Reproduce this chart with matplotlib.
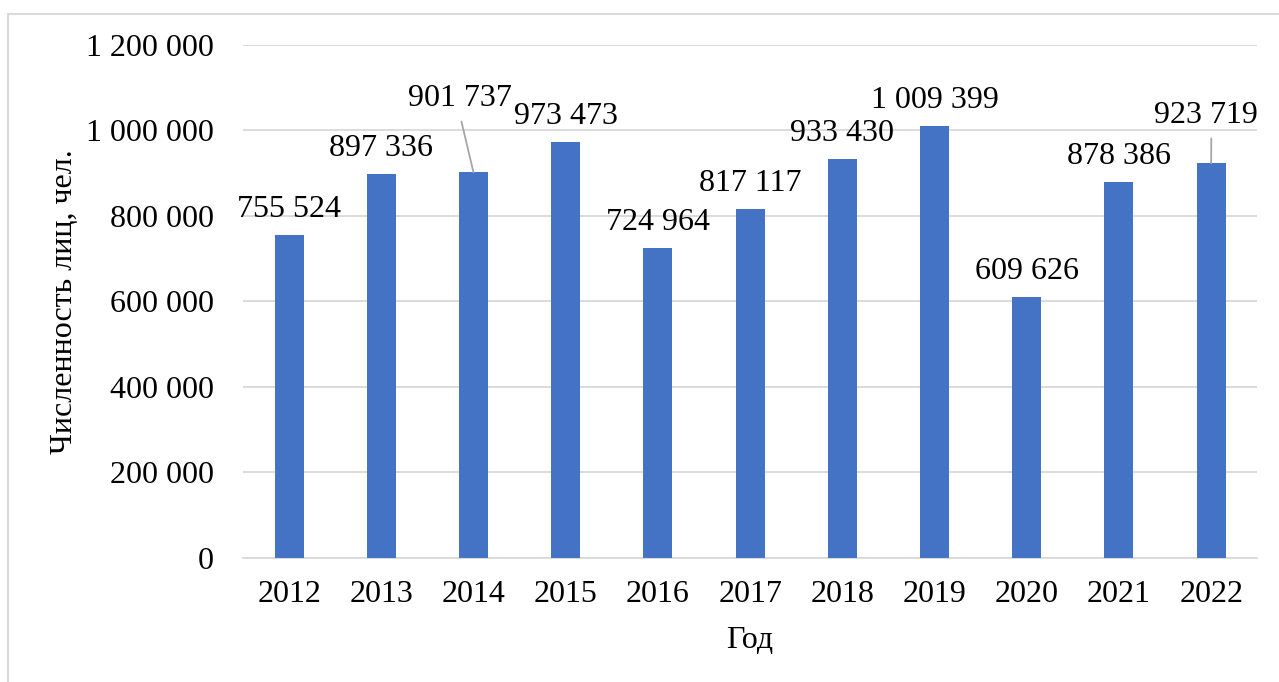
import matplotlib.pyplot as plt
from matplotlib.patches import Rectangle
from matplotlib.ticker import FuncFormatter

# Численность лиц по годам
years = ["2012", "2013", "2014", "2015", "2016", "2017",
         "2018", "2019", "2020", "2021", "2022"]
counts = [755524, 897336, 901737, 973473, 724964, 817117,
          933430, 1009399, 609626, 878386, 923719]

# сдвиг подписей (пиксели) относительно верха столбца
label_shift = [(0, 18)] * len(years)
label_shift[2] = (-14, 66)   # 2014 - с выноской
label_shift[10] = (-5, 40)   # 2022 - с выноской
# точка начала выноски на рамке подписи
leader = {2: (0.5, 0.0), 10: (0.55, 0.0)}

plt.rcParams['font.family'] = ['Liberation Serif', 'DejaVu Serif']
FS = 23

fig = plt.figure(figsize=(12.79, 6.82), dpi=100)
ax = fig.add_axes([0.19, 0.182, 0.793, 0.752])

# рамка вокруг диаграммы
fig.patches.append(Rectangle((8 / 1279, -0.1), 1.2, 1 - 14 / 682 + 0.1,
                             transform=fig.transFigure, fill=False,
                             edgecolor='#d9d9d9', linewidth=1.5))

x = range(len(years))
ax.bar(x, counts, width=0.315, color='#4472C4', zorder=3)

ax.set_xlim(-0.5, len(years) - 0.5)
ax.set_ylim(0, 1200000)
ax.set_yticks(range(0, 1200001, 200000))
ax.yaxis.set_major_formatter(FuncFormatter(lambda v, p: f"{int(v):,}".replace(",", " ")))
ax.set_xticks(list(x))
ax.set_xticklabels(years)

ax.grid(axis='y', color='#d9d9d9', linewidth=1.3, zorder=0)
for s in ['top', 'right', 'left']:
    ax.spines[s].set_visible(False)
ax.spines['bottom'].set_color('#d9d9d9')
ax.spines['bottom'].set_linewidth(1.3)
ax.tick_params(axis='both', length=0, labelsize=FS)
ax.tick_params(axis='y', pad=21)
ax.tick_params(axis='x', pad=16)

for i, v in enumerate(counts):
    txt = f"{v:,}".replace(",", " ")
    dx, dy = label_shift[i]
    kw = {}
    if i in leader:
        kw['arrowprops'] = dict(arrowstyle='-', color='#a6a6a6', lw=1.3,
                                shrinkA=4, shrinkB=0, relpos=leader[i])
    ax.annotate(txt, xy=(i, v), xytext=(dx, dy), textcoords='offset pixels',
                ha='center', va='baseline', fontsize=FS, zorder=4, **kw)

ax.set_ylabel("Численность лиц, чел.", fontsize=FS, labelpad=5)
ax.set_xlabel("Год", fontsize=FS, labelpad=12)

fig.savefig('out.png', dpi=100)
